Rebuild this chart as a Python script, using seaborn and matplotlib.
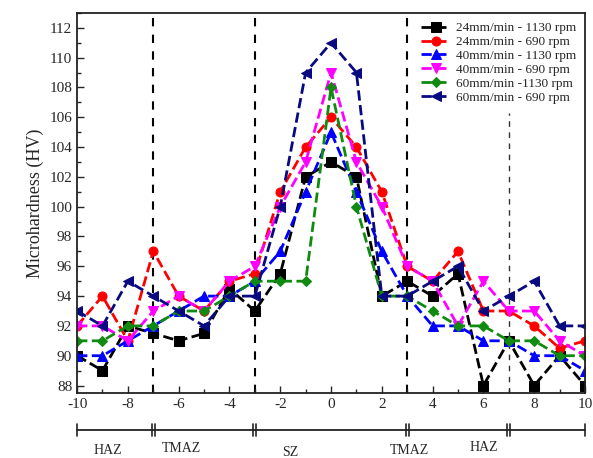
import matplotlib
matplotlib.use("Agg")
import matplotlib.pyplot as plt
import matplotlib.transforms as mtransforms
from matplotlib.ticker import MultipleLocator
import seaborn as sns
import pandas as pd

# distance from weld centre (mm)
distance = list(range(-10, 11))

hv_24_1130 = [90, 89, 92, 91.5, 91, 91.5, 94.5, 93, 95.5, 102, 103, 102, 94, 95, 94, 95.5, 88, 91, 88, 90, 88]
hv_24_690 = [92, 94, 91, 97, 94, 93, 95, 95.5, 101, 104, 106, 104, 101, 96, 95, 97, 93, 93, 92, 90.5, 91]
hv_40_1130 = [90, 90, 91, 92, 93, 94, 94, 95, 97, 101, 105, 101, 97, 94, 92, 92, 91, 91, 90, 90, 89]
hv_40_690 = [92, 92, 91, 93, 94, 93, 95, 96, 100, 103, 109, 103, 100, 96, 95, 92, 95, 93, 93, 91, 90]
hv_60_1130 = [91, 91, 92, 92, 93, 93, 94, 95, 95, 95, 108, 100, 94, 94, 93, 92, 92, 91, 91, 90, 90]
hv_60_690 = [93, 92, 95, 94, 93, 92, 94, 94, 100, 109, 111, 109, 94, 94, 95, 96, 93, 94, 95, 92, 92]

labels = ["24mm/min - 1130 rpm", "24mm/min - 690 rpm", "40mm/min - 1130 rpm",
          "40mm/min - 690 rpm", "60mm/min -1130 rpm", "60mm/min - 690 rpm"]

zone_bounds = [-10, -7, -3, 3, 7, 10]
zone_names = ["HAZ", "TMAZ", "SZ", "TMAZ", "HAZ"]

series = [hv_24_1130, hv_24_690, hv_40_1130, hv_40_690, hv_60_1130, hv_60_690]
colors = ["black", "red", "blue", "magenta", "#118a11", "#0a0a80"]
markers = ["s", "o", "^", "v", "D", "<"]

sns.set_style("ticks")
plt.rcParams["font.family"] = ["Liberation Serif", "DejaVu Serif"]
plt.rcParams["axes.unicode_minus"] = False

fig = plt.figure(figsize=(5.93, 4.58), dpi=100)
ax = fig.add_axes([0.130, 0.142, 0.8565, 0.8297])

for vals, lab, c, m in zip(series, labels, colors, markers):
    df = pd.DataFrame({"x": distance, "y": vals})
    ms = 5.5 if m == "D" else 6.5
    sns.lineplot(data=df, x="x", y="y", color=c, marker=m, linestyle="--", dashes=(3, 1.6),
                 lw=2, markersize=ms, markeredgecolor=c, label=lab, ax=ax)

# zone boundaries
for b in zone_bounds[1:4]:
    ax.axvline(b, color="black", ls="--", lw=1.5, dashes=(4, 4), zorder=0)
ax.axvline(zone_bounds[4], ymax=0.737, color="#333333", ls="--", lw=1, dashes=(4, 4), zorder=0)

ax.set_xlim(-10, 10)
ax.set_ylim(87.5, 113)
ax.xaxis.set_major_locator(MultipleLocator(2))
ax.xaxis.set_minor_locator(MultipleLocator(1))
ax.yaxis.set_major_locator(MultipleLocator(2))
ax.yaxis.set_minor_locator(MultipleLocator(1))
ax.tick_params(which="both", direction="in", labelsize=11, top=False, right=False)
ax.tick_params(which="major", length=5, width=1)
ax.tick_params(which="minor", length=3, width=1)
ax.set_xlabel("")
ax.set_ylabel("Microhardness (HV)", fontsize=13)
for s in ax.spines.values():
    s.set_linewidth(1.3)
    s.set_color("#222222")

ax.legend(loc="upper right", frameon=False, fontsize=9.5, labelspacing=0.12,
          handlelength=2.2, handletextpad=0.4, borderaxespad=0.3)

# zone bar below the axis
trans = mtransforms.blended_transform_factory(ax.transData, fig.transFigure)
ybar = 28 / 458
ax.plot([-10, 10], [ybar, ybar], color="#222222", lw=1.3, transform=trans, clip_on=False)
for b in zone_bounds:
    offs = [0] if b in (-10, 10) else [-0.06, 0.06]
    for o in offs:
        ax.plot([b + o, b + o], [ybar - 6 / 458, ybar + 6 / 458], color="#222222",
                lw=1.2, transform=trans, clip_on=False)

label_x = [-8.8, -5.9, -1.6, 3.1, 6.0]
label_top = [444, 442, 446, 444, 441]
for name, lx, ly in zip(zone_names, label_x, label_top):
    ax.text(lx, 1 - ly / 458, name, transform=trans, ha="center", va="top", fontsize=10)

fig.savefig("out.png", dpi=100)
